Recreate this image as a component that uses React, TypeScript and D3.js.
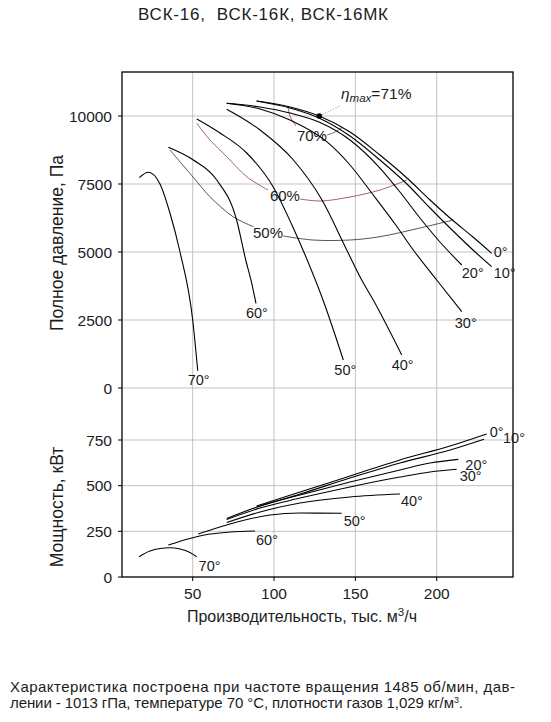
import React from "react";
import * as d3 from "d3";

// ---------- data ----------
const titleText = "ВСК-16,  ВСК-16К, ВСК-16МК";
const yLabelTop = "Полное давление, Па";
const yLabelBottom = "Мощность, кВт";
const footnote1 = "Характеристика построена при частоте вращения 1485 об/мин, дав-";
const footnote2 = "лении - 1013 гПа, температуре 70 °С, плотности газов 1,029 кг/м";

const xTicks = [50, 100, 150, 200];
const pTicks = [0, 2500, 5000, 7500, 10000];
const nTicks = [0, 250, 500, 750];

const angleLabels = ["0°", "10°", "20°", "30°", "40°", "50°", "60°", "70°"];

// Pressure curves [Q thousand m3/h, P Pa]
const pressure0 = [[89.3, 10551], [109.8, 10331], [127.8, 10000], [146.7, 9412], [165.1, 8566], [181.7, 7721], [195.9, 6912], [208.2, 6250], [222.3, 5551], [233.8, 4952]];
const pressure10 = [[89.3, 10551], [109.8, 10294], [127.6, 9926], [146.7, 9265], [165.1, 8382], [181.7, 7500], [195.9, 6618], [208.2, 5882], [222.3, 5074], [233.8, 4460]];
const pressure20 = [[70.9, 10467], [91.4, 10331], [109.8, 10110], [127.6, 9779], [146.7, 9118], [165.1, 8088], [177.4, 7206], [189.7, 6250], [202.0, 5368], [215.4, 4522]];
const pressure30 = [[70.9, 10467], [91.4, 10257], [109.8, 9853], [132.4, 9055], [146.7, 8199], [161.0, 7096], [174.4, 6029], [185.6, 5074], [200.0, 3971], [215.4, 2805]];
const pressure40 = [[70.9, 10246], [91.4, 9485], [111.9, 8382], [129.5, 6912], [144.7, 5074], [153.9, 3971], [161.0, 3235], [178.5, 1213]];
const pressure50 = [[52.5, 9890], [66.8, 9375], [83.2, 8640], [99.5, 7390], [111.0, 5993], [117.8, 5074], [130.1, 3235], [142.6, 1029]];
const pressure60 = [[35.0, 8849], [50.4, 8382], [64.8, 7647], [77.0, 6176], [82.6, 4706], [86.3, 3849], [88.9, 3114]];
const pressure70 = [[17.2, 7732], [22.7, 7930], [29.9, 7500], [36.0, 6434], [42.2, 5000], [50.0, 2500], [53.1, 636]];

// Power curves [Q, N kW]
const power0 = [[89.3, 389], [116.0, 465], [146.7, 553], [177.4, 641], [208.2, 717], [230.7, 783]];
const power10 = [[89.3, 383], [116.0, 454], [146.7, 542], [177.4, 624], [208.2, 695], [229.1, 754]];
const power20 = [[70.9, 320], [91.4, 389], [116.0, 449], [146.7, 520], [177.4, 586], [195.9, 624], [213.3, 644]];
const power30 = [[70.9, 315], [91.4, 378], [116.0, 432], [146.7, 493], [177.4, 547], [195.9, 575], [212.3, 590]];
const power40 = [[70.9, 298], [91.4, 356], [116.0, 405], [146.7, 438], [177.4, 454]];
const power50 = [[53.4, 235], [72.9, 290], [97.5, 339], [116.0, 350], [141.6, 349]];
const power60 = [[35.0, 175], [48.3, 211], [60.6, 235], [72.9, 246], [88.3, 252]];
const power70 = [[17.0, 111], [23.7, 142], [29.9, 156], [36.0, 160], [42.2, 153], [48.3, 134], [52.4, 111]];

// Efficiency contours [Q, P]
const eff70a = [[108.6, 10368], [109.8, 10000], [113.5, 9632]];
const eff70b = [[132.6, 9301], [137.5, 9412], [142.4, 9596]];
const eff60a = [[52.5, 9732], [60.6, 9118], [70.9, 8504], [83.2, 7768], [96.3, 7279]];
const eff60b = [[116.0, 6949], [128.3, 6875], [146.7, 7022], [165.1, 7279], [181.7, 7647]];
const eff50a = [[36.0, 8750], [50.2, 7757], [60.6, 7033], [74.8, 6298], [87.3, 5930]];
const eff50b = [[105.7, 5588], [123.9, 5441], [146.7, 5441], [165.1, 5563], [189.7, 5882], [210.2, 6176]];
const effLabels = ["70%", "60%", "50%"];
const effLabelPos = [[123.3, 9081], [106.7, 6875], [96.3, 5515]];
const etaMaxPoint = [127.8, 10000];
const etaMaxValue = "=71%";

const pressureSeries = [pressure0, pressure10, pressure20, pressure30, pressure40, pressure50, pressure60, pressure70];
const powerSeries = [power0, power10, power20, power30, power40, power50, power60, power70];

// ---------- layout ----------
const W = 551;
const H = 722;
const left = 122, right = 513, top = 72, bottom = 577;

const x = d3.scaleLinear().domain([6.54, 246.9]).range([left, right]);
const yP = d3.scaleLinear().domain([0, 10000]).range([388, 116]);
const yN = d3.scaleLinear().domain([0, 750]).range([577, 440]);

const lineP = d3.line<number[]>().x(d => x(d[0])).y(d => yP(d[1])).curve(d3.curveMonotoneX);
const lineN = d3.line<number[]>().x(d => x(d[0])).y(d => yN(d[1])).curve(d3.curveMonotoneX);
const lineC = d3.line<number[]>().x(d => x(d[0])).y(d => yP(d[1])).curve(d3.curveCatmullRom);

const topLabelOffsets = [[2, 4], [2, 11], [0, 13], [-7, 16], [-10, 15], [-9, 15], [-10, 15], [-10, 14]];
const botLabelOffsets = [[3, 3], [19, 4], [7, 11], [3, 12], [1, 12], [2, 13], [1, 14], [2, 14]];

const FONT = "'Liberation Sans', Arial, sans-serif";
const TXT = "#1c1c1c";
const GRID = "#b4b4b4";
const RED = "#8e3a3a";

export default function App() {
  return (
    <svg width={W} height={H} style={{ position: "absolute", left: 0, top: 0, background: "#fff" }} fontFamily={FONT}>
      <rect x={0} y={0} width={W} height={H} fill="#fff" />
      <text x={138} y={20} fontSize={17} fill={TXT} xmlSpace="preserve" style={{ whiteSpace: "pre" }} textLength={250} lengthAdjust="spacing">{titleText}</text>

      {/* grid */}
      {xTicks.map(t => (
        <line key={"gx" + t} x1={x(t)} x2={x(t)} y1={top} y2={bottom} stroke={GRID} strokeWidth={0.8} />
      ))}
      {pTicks.map(t => (
        <line key={"gp" + t} x1={left} x2={right} y1={yP(t)} y2={yP(t)} stroke={GRID} strokeWidth={0.8} />
      ))}
      {nTicks.filter(t => t > 0).map(t => (
        <line key={"gn" + t} x1={left} x2={right} y1={yN(t)} y2={yN(t)} stroke={GRID} strokeWidth={0.8} />
      ))}

      {/* frame */}
      <rect x={left} y={top} width={right - left} height={bottom - top} fill="none" stroke="#000" strokeWidth={1.3} />

      {/* ticks + labels */}
      {pTicks.map(t => (
        <g key={"tp" + t}>
          <line x1={left - 4} x2={left} y1={yP(t)} y2={yP(t)} stroke="#000" strokeWidth={1} />
          <text x={112} y={yP(t) + 5.5} textAnchor="end" fontSize={15.5} fill={TXT}>{t}</text>
        </g>
      ))}
      {nTicks.map(t => (
        <g key={"tn" + t}>
          <line x1={left - 4} x2={left} y1={yN(t)} y2={yN(t)} stroke="#000" strokeWidth={1} />
          <text x={112} y={yN(t) + 5.5} textAnchor="end" fontSize={15.5} fill={TXT}>{t}</text>
        </g>
      ))}
      {xTicks.map(t => (
        <g key={"tx" + t}>
          <line x1={x(t)} x2={x(t)} y1={bottom} y2={bottom + 4} stroke="#000" strokeWidth={1} />
          <text x={x(t)} y={599} textAnchor="middle" fontSize={15.5} fill={TXT}>{t}</text>
        </g>
      ))}

      {/* axis titles */}
      <text transform={`translate(63,243) rotate(-90)`} textAnchor="middle" fontSize={17.5} fill={TXT}>{yLabelTop}</text>
      <text transform={`translate(63,507) rotate(-90)`} textAnchor="middle" fontSize={17.5} fill={TXT}>{yLabelBottom}</text>
      <text x={302} y={622} textAnchor="middle" fontSize={16} fill={TXT}>
        Производительность, тыс. м<tspan dy={-6} fontSize={11.5}>3</tspan><tspan dy={6}>/ч</tspan>
      </text>

      {/* efficiency contours */}
      <path d={lineC(eff70a) || ""} fill="none" stroke={RED} strokeWidth={0.8} />
      <path d={lineC(eff70b) || ""} fill="none" stroke={RED} strokeWidth={0.8} />
      <path d={lineC(eff60a) || ""} fill="none" stroke={RED} strokeWidth={0.8} />
      <path d={lineC(eff60b) || ""} fill="none" stroke={RED} strokeWidth={0.8} />
      <path d={lineC(eff50a) || ""} fill="none" stroke="#2a2a2a" strokeWidth={0.8} />
      <path d={lineC(eff50b) || ""} fill="none" stroke="#2a2a2a" strokeWidth={0.8} />
      {effLabels.map((l, i) => (
        <text key={l} x={x(effLabelPos[i][0])} y={yP(effLabelPos[i][1])} textAnchor="middle" fontSize={15} fill={TXT}>{l}</text>
      ))}

      {/* pressure curves */}
      {pressureSeries.map((s, i) => (
        <g key={"p" + i}>
          <path d={lineP(s) || ""} fill="none" stroke="#000" strokeWidth={1.1} />
          <text x={x(s[s.length - 1][0]) + topLabelOffsets[i][0]} y={yP(s[s.length - 1][1]) + topLabelOffsets[i][1]} fontSize={14.5} fill={TXT}>{angleLabels[i]}</text>
        </g>
      ))}

      {/* eta max */}
      <line x1={x(etaMaxPoint[0])} y1={yP(etaMaxPoint[1])} x2={340} y2={106} stroke="#888" strokeWidth={0.7} strokeDasharray="1.5,1.5" />
      <circle cx={x(etaMaxPoint[0])} cy={yP(etaMaxPoint[1])} r={2.8} fill="#000" />
      <text x={341} y={99} fontSize={15.5} fill={TXT}>
        <tspan fontStyle="italic">η</tspan><tspan fontStyle="italic" fontSize={11.5} dy={3}>max</tspan><tspan dy={-3}>{etaMaxValue}</tspan>
      </text>

      {/* power curves */}
      {powerSeries.map((s, i) => (
        <g key={"n" + i}>
          <path d={lineN(s) || ""} fill="none" stroke="#000" strokeWidth={1.1} />
          <text x={x(s[s.length - 1][0]) + botLabelOffsets[i][0]} y={yN(s[s.length - 1][1]) + botLabelOffsets[i][1]} fontSize={14.5} fill={TXT}>{angleLabels[i]}</text>
        </g>
      ))}

      {/* footnote */}
      <text x={10} y={692} fontSize={15} fill={TXT} textLength={505} lengthAdjust="spacing">{footnote1}</text>
      <text x={10} y={708} fontSize={15} fill={TXT} textLength={453} lengthAdjust="spacing">
        {footnote2}<tspan dy={-5} fontSize={9}>3</tspan><tspan dy={5}>.</tspan>
      </text>
    </svg>
  );
}
